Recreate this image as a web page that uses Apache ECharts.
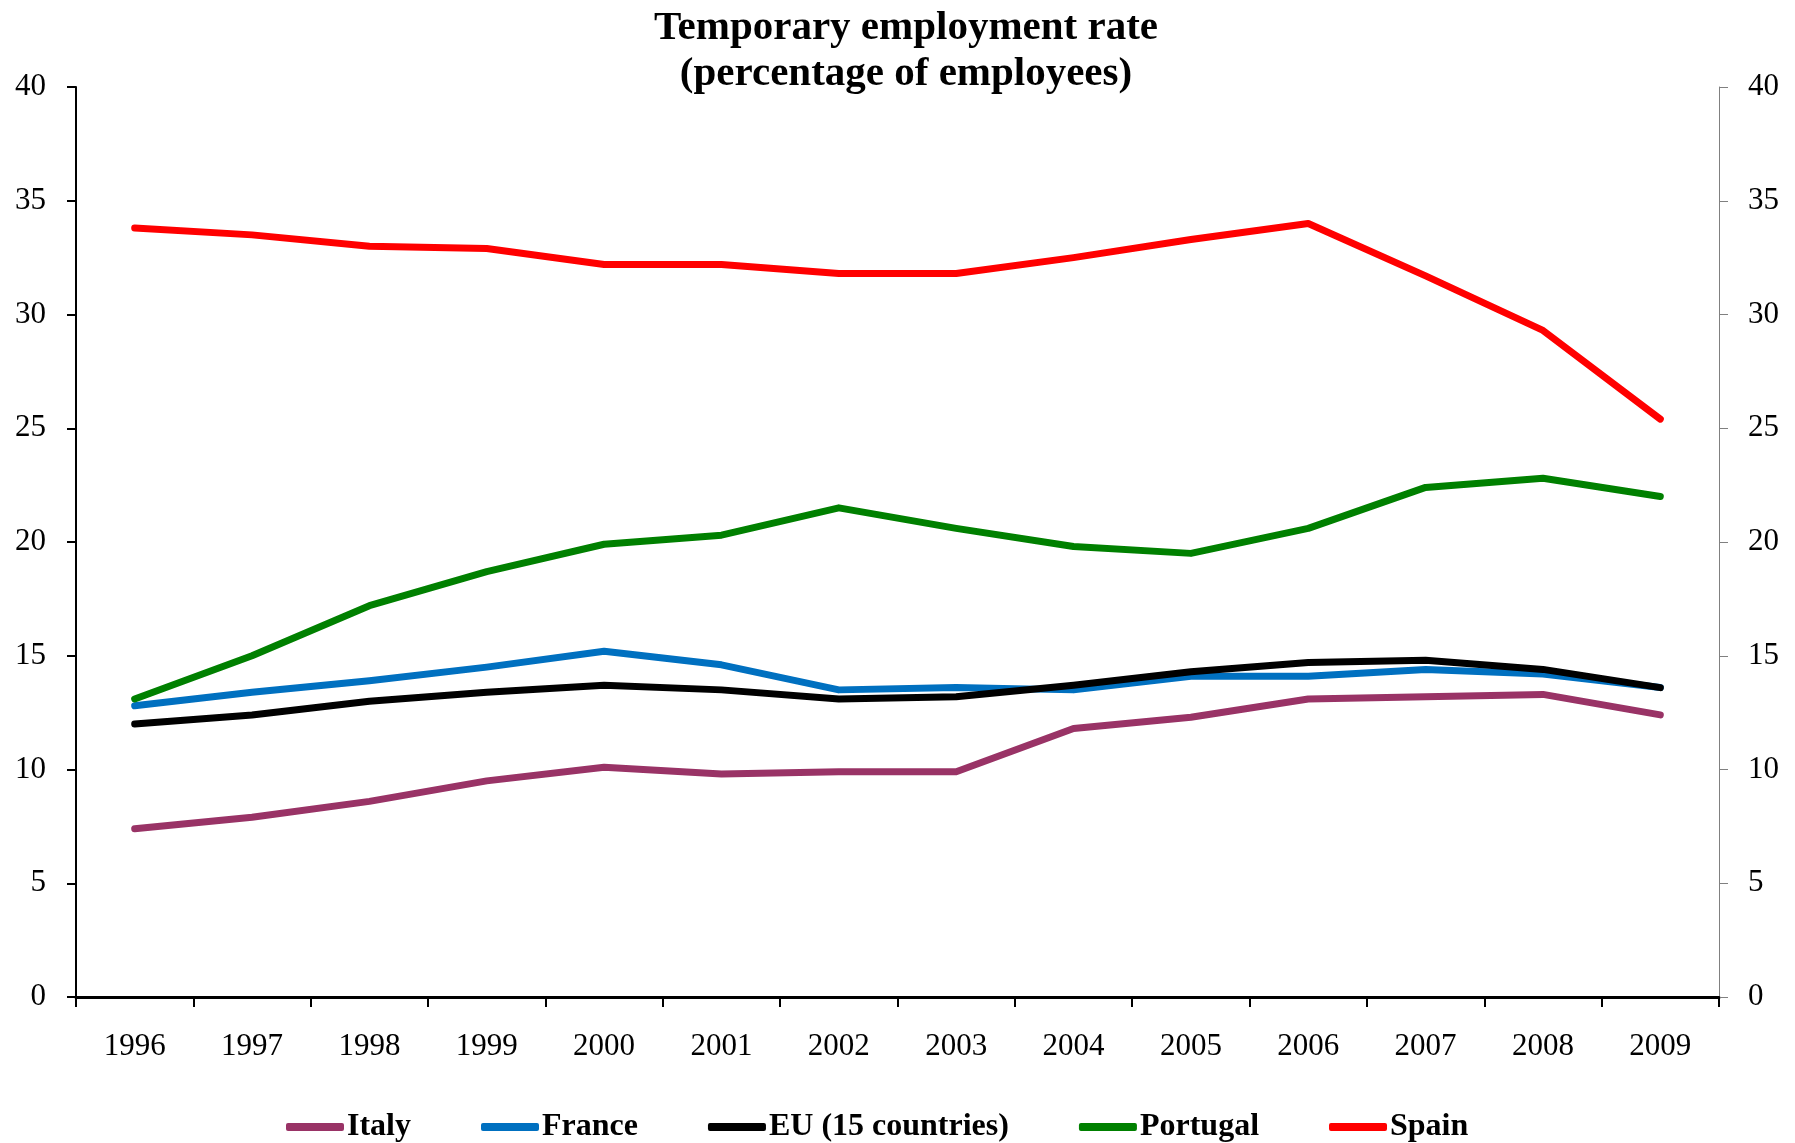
<!DOCTYPE html>
<html>
<head>
<meta charset="utf-8">
<script src="https://cdn.jsdelivr.net/npm/echarts@6/dist/echarts.min.js"></script>
<style>
html,body{margin:0;padding:0;background:#fff;}
#chart{width:1795px;height:1143px;}
</style>
</head>
<body>
<div id="chart"></div>
<script>
const years = ['1996','1997','1998','1999','2000','2001','2002','2003','2004','2005','2006','2007','2008','2009'];
const italy    = [7.4, 7.9, 8.6, 9.5, 10.1, 9.8, 9.9, 9.9, 11.8, 12.3, 13.1, 13.2, 13.3, 12.4];
const france   = [12.8, 13.4, 13.9, 14.5, 15.2, 14.6, 13.5, 13.6, 13.5, 14.1, 14.1, 14.4, 14.2, 13.6];
const eu15     = [12.0, 12.4, 13.0, 13.4, 13.7, 13.5, 13.1, 13.2, 13.7, 14.3, 14.7, 14.8, 14.4, 13.6];
const portugal = [13.1, 15.0, 17.2, 18.7, 19.9, 20.3, 21.5, 20.6, 19.8, 19.5, 20.6, 22.4, 22.8, 22.0];
const spain    = [33.8, 33.5, 33.0, 32.9, 32.2, 32.2, 31.8, 31.8, 32.5, 33.3, 34.0, 31.7, 29.3, 25.4];

const seriesNames = ['Italy', 'France', 'EU (15 countries)', 'Portugal', 'Spain'];
const seriesData = [italy, france, eu15, portugal, spain];
const seriesColors = ['#993366', '#0070C0', '#000000', '#008000', '#FF0000'];

const FONT = '"Liberation Serif", "Times New Roman", serif';

const chart = echarts.init(document.getElementById('chart'), null, {renderer: 'canvas'});
const option = {
  animation: false,
  backgroundColor: '#ffffff',
  title: {
    text: 'Temporary employment rate\n(percentage of employees)',
    left: 901,
    textAlign: 'center',
    top: 0,
    textStyle: {
      fontFamily: FONT,
      fontWeight: 'bold',
      fontSize: 41,
      lineHeight: 46,
      color: '#000'
    }
  },
  legend: {
    top: 1106,
    left: 281,
    itemGap: 70,
    itemWidth: 58,
    itemHeight: 8,
    icon: 'roundRect',
    textStyle: {
      fontFamily: FONT,
      fontWeight: 'bold',
      fontSize: 32,
      color: '#000',
      padding: [0, 0, 0, -2]
    },
    data: seriesNames
  },
  grid: {
    left: 76,
    right: 76,
    top: 87,
    bottom: 146,
    containLabel: false
  },
  xAxis: {
    type: 'category',
    data: years,
    boundaryGap: true,
    axisLine: {show: true, lineStyle: {color: '#000', width: 3}},
    axisTick: {show: true, inside: false, length: 10, lineStyle: {color: '#000', width: 2}},
    axisLabel: {
      margin: 34,
      fontFamily: FONT,
      fontSize: 31,
      color: '#000'
    },
    splitLine: {show: false}
  },
  yAxis: [
    {
      type: 'value',
      position: 'left',
      min: 0,
      max: 40,
      interval: 5,
      axisLine: {show: true, lineStyle: {color: '#000', width: 2}},
      axisTick: {show: true, inside: false, length: 9, lineStyle: {color: '#000', width: 2}},
      axisLabel: {margin: 30, fontFamily: FONT, fontSize: 31, color: '#000'},
      splitLine: {show: false}
    },
    {
      type: 'value',
      position: 'right',
      min: 0,
      max: 40,
      interval: 5,
      axisLine: {show: true, lineStyle: {color: '#808080', width: 1}},
      axisTick: {show: true, inside: false, length: 9, lineStyle: {color: '#808080', width: 1}},
      axisLabel: {margin: 29, fontFamily: FONT, fontSize: 31, color: '#000'},
      splitLine: {show: false}
    }
  ],
  series: seriesNames.map((name, i) => ({
    name: name,
    type: 'line',
    yAxisIndex: 0,
    data: seriesData[i],
    symbol: 'none',
    showSymbol: false,
    smooth: false,
    color: seriesColors[i],
    lineStyle: {color: seriesColors[i], width: 7, cap: 'round', join: 'round'},
    emphasis: {disabled: true}
  }))
};
chart.setOption(option);
</script>
</body>
</html>
